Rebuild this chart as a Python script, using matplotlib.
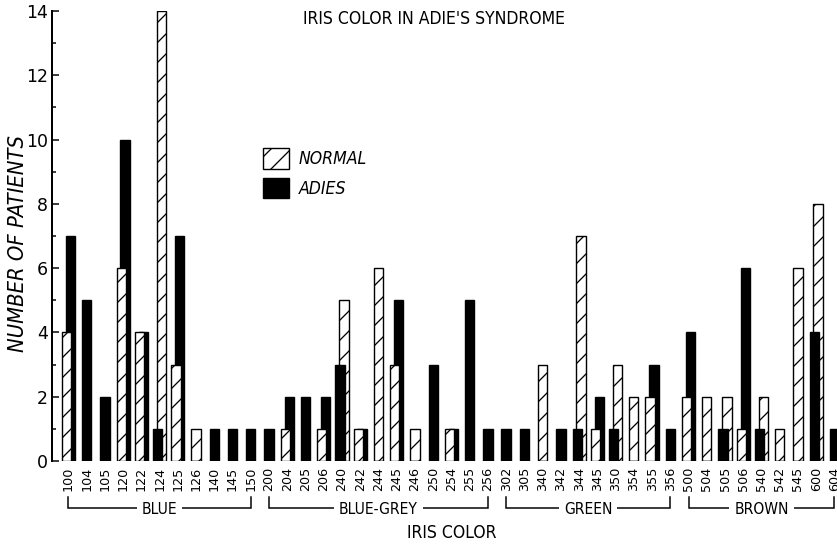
import numpy as np
import matplotlib
matplotlib.use("Agg")
import matplotlib.pyplot as plt
from matplotlib import font_manager as fm
from matplotlib.transforms import blended_transform_factory
from matplotlib.patches import Patch

# ---- data -------------------------------------------------------------
iris_codes = ["100", "104", "105", "120", "122", "124", "125", "126", "140", "145", "150",
              "200", "204", "205", "206", "240", "242", "244", "245", "246", "250", "254", "255", "256",
              "302", "305", "340", "342", "344", "345", "350", "354", "355", "356",
              "500", "504", "505", "506", "540", "542", "545", "600", "604"]
normal = [4, 0, 0, 6, 4, 14, 3, 1, 0, 0, 0,
          0, 1, 0, 1, 5, 1, 6, 3, 1, 0, 1, 0, 0,
          0, 0, 3, 0, 7, 1, 3, 2, 2, 0,
          2, 2, 2, 1, 2, 1, 6, 8, 0]
adies = [7, 5, 2, 10, 4, 1, 7, 0, 1, 1, 1,
         1, 2, 2, 2, 3, 1, 0, 5, 0, 3, 1, 5, 1,
         1, 1, 0, 1, 1, 2, 1, 0, 3, 1,
         4, 0, 1, 6, 1, 0, 0, 4, 1]
group_names = ["BLUE", "BLUE-GREY", "GREEN", "BROWN"]
group_first = ["100", "200", "302", "500"]
group_last = ["150", "256", "356", "604"]

# ---- fonts --------------------------------------------------------------
def lettering_font():
    entries = fm.fontManager.ttflist
    names = {f.name for f in entries}
    if "Liberation Sans Narrow" in names:
        return dict(family="Liberation Sans Narrow"), 1.0
    if any(f.name == "DejaVu Sans" and "condensed" in str(f.stretch).lower() for f in entries):
        return dict(family="DejaVu Sans", stretch="condensed"), 0.97
    return dict(family="DejaVu Sans"), 0.92

LETTER, SCALE = lettering_font()

DPI = 120
W, H = 837, 547
def pt(px):
    return px * 72.0 / DPI

plt.rcParams["hatch.linewidth"] = pt(1.3)
plt.rcParams["font.family"] = ["DejaVu Sans"]

fig = plt.figure(figsize=(W / DPI, H / DPI), dpi=DPI)
ax = fig.add_axes([52 / W, 86 / H, 785 / W, (461 - 11) / H])

x = np.arange(len(iris_codes))
n = np.array(normal)
a = np.array(adies)

# the shorter bar of a pair sits to the left and in front
off = 0.105
both = (n > 0) & (a > 0)
n_front = both & (n <= a)
a_front = both & (a < n)
n_x = x + np.where(both, np.where(n_front, -off, off), 0.0)
a_x = x + np.where(both, np.where(a_front, -off, off), 0.0)
bw = 0.51
lw = pt(1.4)

hatch_kw = dict(width=bw, facecolor="white", edgecolor="black", hatch="//", linewidth=lw)
solid_kw = dict(width=bw, facecolor="black", edgecolor="black", linewidth=lw)

ax.bar(n_x[~n_front], n[~n_front], zorder=2, **hatch_kw)
ax.bar(a_x[~a_front], a[~a_front], zorder=2, **solid_kw)
ax.bar(n_x[n_front], n[n_front], zorder=3, **hatch_kw)
ax.bar(a_x[a_front], a[a_front], zorder=3, **solid_kw)

ax.set_xlim(-0.899, 42.14)
ax.set_ylim(0, 14)

for s in ("top", "right", "bottom"):
    ax.spines[s].set_visible(False)
ax.spines["left"].set_linewidth(pt(2))

ax.set_yticks(np.arange(0, 15, 2))
ax.set_yticks(np.arange(1, 15, 2), minor=True)
ax.tick_params(axis="y", which="major", direction="in", length=pt(7), width=pt(1.5),
               pad=pt(4), labelsize=pt(17.4))
ax.tick_params(axis="y", which="minor", direction="in", length=pt(4), width=pt(1.5))

ax.set_xticks(x)
ax.set_xticklabels(iris_codes, rotation=90, fontsize=pt(12.8))
ax.tick_params(axis="x", length=0, pad=pt(6))

# legend
handles = [Patch(facecolor="white", edgecolor="black", hatch="//", linewidth=lw, label="NORMAL"),
           Patch(facecolor="black", edgecolor="black", linewidth=lw, label="ADIES")]
leg_fs = pt(18 * SCALE)
leg = ax.legend(handles=handles, loc="upper left",
                bbox_to_anchor=(262.7 / W, 1 - 148 / H), bbox_transform=fig.transFigure,
                frameon=False, borderpad=0, borderaxespad=0,
                handlelength=27.3 / 18, handleheight=1.46,
                handletextpad=10 / 18, labelspacing=0.5,
                prop=dict(size=leg_fs, style="italic", **LETTER))

# group brackets under the tick labels
tr = blended_transform_factory(ax.transData, fig.transFigure)
y_top = 1 - 497 / H
y_line = 1 - 508 / H
pos = {c: i for i, c in enumerate(iris_codes)}
for name, first, last in zip(group_names, group_first, group_last):
    x0, x1 = pos[first], pos[last]
    ax.plot([x0, x0, x1, x1], [y_top, y_line, y_line, y_top], color="black",
            lw=pt(1.5), transform=tr, clip_on=False, solid_joinstyle="miter")
    ax.text((x0 + x1) / 2, 1 - 509 / H, name, transform=tr, ha="center", va="center",
            fontsize=pt(16 * SCALE), zorder=5,
            bbox=dict(facecolor="white", edgecolor="none", pad=pt(5)), **LETTER)

fig.text(452 / W, 1 - 533.5 / H, "IRIS COLOR", ha="center", va="center",
         fontsize=pt(18 * SCALE), **LETTER)
fig.text(434 / W, 1 - 19.5 / H, "IRIS COLOR IN ADIE'S SYNDROME", ha="center", va="center",
         fontsize=pt(18 * SCALE), **LETTER)
fig.text(18.5 / W, 1 - 243.5 / H, "NUMBER OF PATIENTS", ha="center", va="center",
         rotation=90, fontsize=pt(22.5 * SCALE), style="italic", **LETTER)

fig.savefig("out.png", dpi=DPI)
